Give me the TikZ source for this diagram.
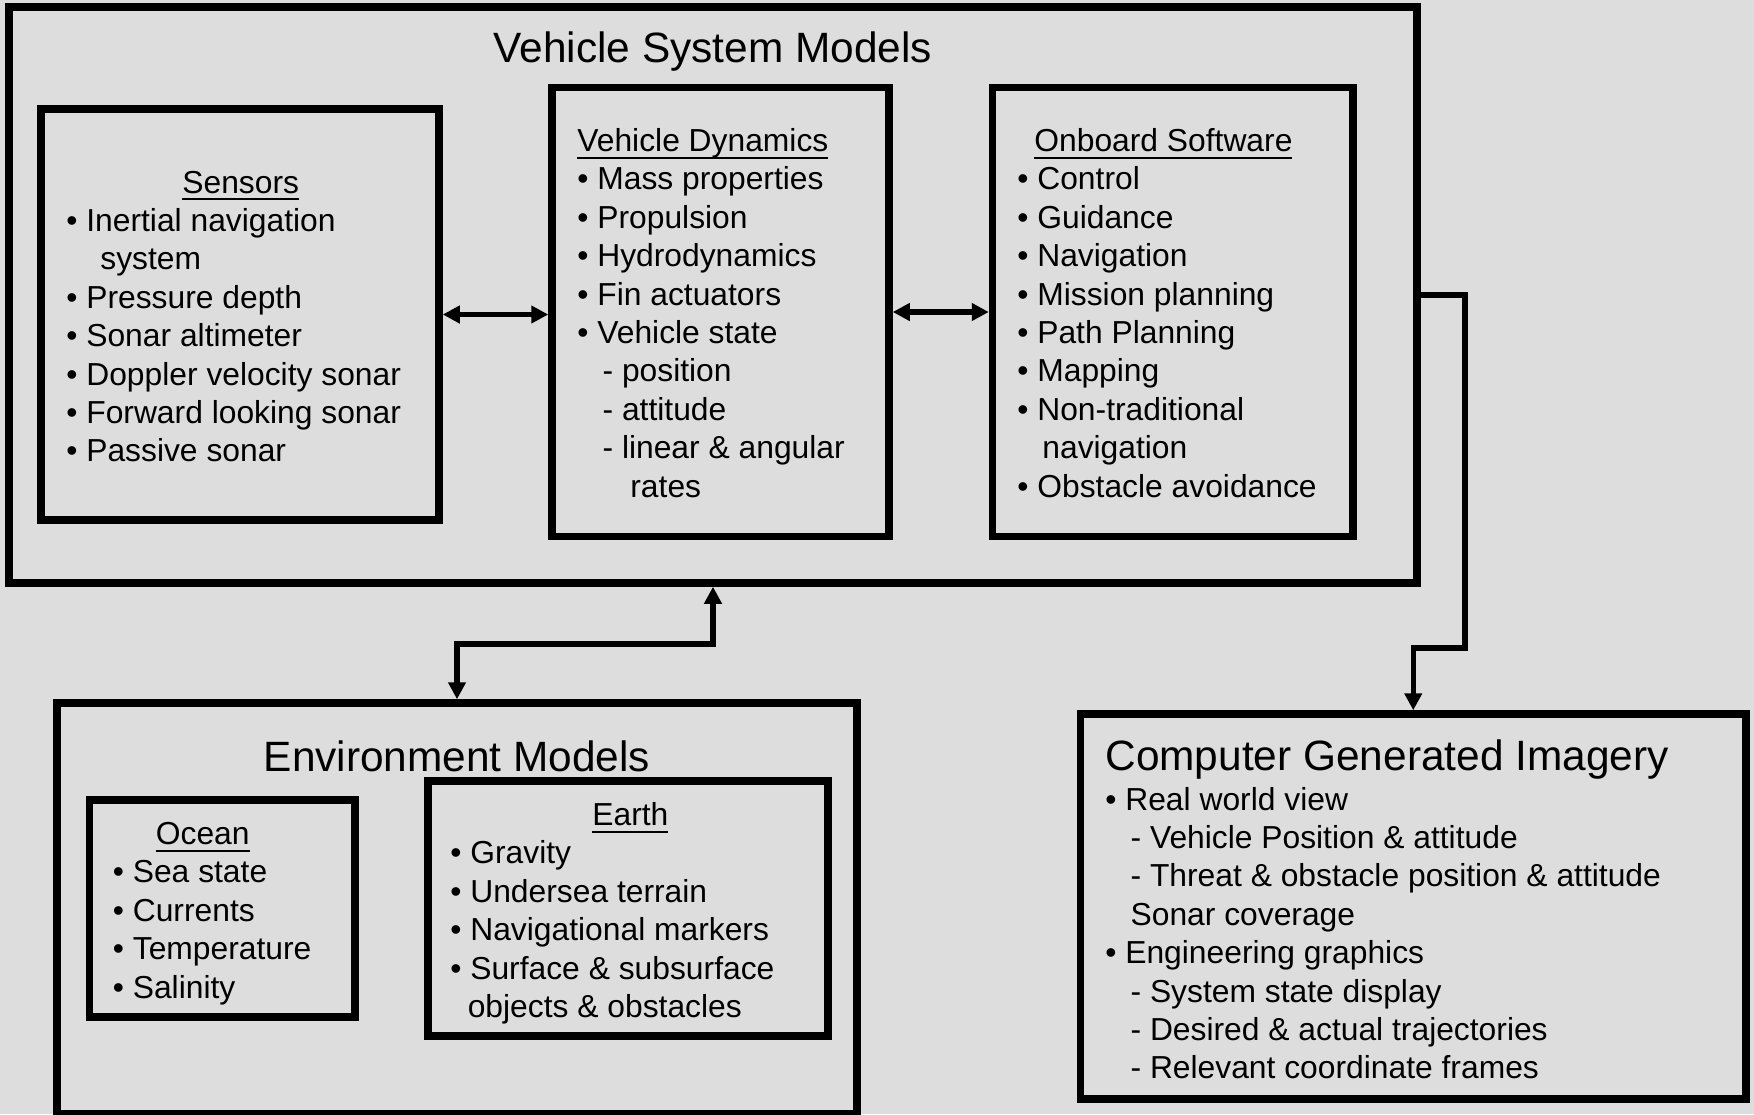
\documentclass[tikz,border=0pt]{standalone}
\usepackage{fontspec}
\setmainfont{Liberation Sans}
\usepackage{xcolor}
\usepackage{tikz}
\usetikzlibrary{arrows.meta}

\definecolor{panelgray}{RGB}{221,221,221}

% underlined box heading, rule drawn through the descenders
\newcommand{\hdr}[1]{\setbox0\hbox{#1}\rlap{\rule[-3.6pt]{\wd0}{1.1pt}}\box0}

\tikzset{
  model/.style={
    rectangle, draw=black, line width=3.75pt, inner sep=0pt
  },
  title/.style={
    font=\fontsize{21.2}{25}\selectfont, inner sep=0pt
  },
  items/.style={
    font=\fontsize{15.9}{19.2}\selectfont, inner sep=0pt, anchor=base west
  },
  headtip/.tip={Triangle[length=8.5pt,width=8.5pt]},
  link/.style={headtip-headtip, line width=2.75pt},
  feed/.style={-headtip, line width=2.75pt},
}

\begin{document}
\begin{tikzpicture}[x=0.5pt, y=-0.5pt]
    \fill[panelgray] (0,0) rectangle (1754,1114);
    \useasboundingbox (0,0) rectangle (1754,1114);

    % vehicle side
    \node[model, minimum width=704pt, minimum height=288pt] (vsm) at (713,295) {};
    \node[title, anchor=base] (vsmtitle) at (713,62.5) {Vehicle System Models};
    \node[model, minimum width=199pt, minimum height=205.5pt] (sensors) at (240,314.5) {};
    \node[model, minimum width=168.5pt, minimum height=224.5pt] (dynamics) at (720.5,312) {};
    \node[model, minimum width=180.25pt, minimum height=224.5pt] (software) at (1172.75,312) {};

    \node[items] (sensorlist) at (66,193) {\begin{tabular}[t]{@{}l@{}}
      \hspace*{58pt}\hdr{Sensors}\\
      • Inertial navigation\\
      \hspace*{17pt}system\\
      • Pressure depth\\
      • Sonar altimeter\\
      • Doppler velocity sonar\\
      • Forward looking sonar\\
      • Passive sonar
    \end{tabular}};
    \node[items] (dynamicslist) at (577,151.5) {\begin{tabular}[t]{@{}l@{}}
      \hdr{Vehicle Dynamics}\\
      • Mass properties\\
      • Propulsion\\
      • Hydrodynamics\\
      • Fin actuators\\
      • Vehicle state\\
      \hspace*{12.6pt}- position\\
      \hspace*{12.6pt}- attitude\\
      \hspace*{12.6pt}- linear \& angular\\
      \hspace*{26.5pt}rates
    \end{tabular}};
    \node[items] (softwarelist) at (1017,151.5) {\begin{tabular}[t]{@{}l@{}}
      \hspace*{8.5pt}\hdr{Onboard Software}\\
      • Control\\
      • Guidance\\
      • Navigation\\
      • Mission planning\\
      • Path Planning\\
      • Mapping\\
      • Non-traditional\\
      \hspace*{12.5pt}navigation\\
      • Obstacle avoidance
    \end{tabular}};

    % environment side
    \node[model, minimum width=400pt, minimum height=205.25pt] (env) at (457,908.25) {};
    \node[title, anchor=base] (envtitle) at (457,771.5) {Environment Models};
    \node[model, minimum width=132.75pt, minimum height=108.5pt] (ocean) at (222.25,908.5) {};
    \node[model, minimum width=200pt, minimum height=127.5pt] (earth) at (628,908.5) {};

    \node[items] (oceanlist) at (112.5,844.5) {\begin{tabular}[t]{@{}l@{}}
      \hspace*{21.5pt}\hdr{Ocean}\\
      • Sea state\\
      • Currents\\
      • Temperature\\
      • Salinity
    \end{tabular}};
    \node[items] (earthlist) at (450,825.5) {\begin{tabular}[t]{@{}l@{}}
      \hspace*{71pt}\hdr{Earth}\\
      • Gravity\\
      • Undersea terrain\\
      • Navigational markers\\
      • Surface \& subsurface\\
      \hspace*{8.7pt}objects \& obstacles
    \end{tabular}};

    % imagery
    \node[model, minimum width=332.75pt, minimum height=192.5pt] (cgi) at (1413.25,906.5) {};
    \node[title, anchor=base west] (cgititle) at (1105,770.5) {Computer Generated Imagery};
    \node[items] (cgilist) at (1105,810) {\begin{tabular}[t]{@{}l@{}}
      • Real world view\\
      \hspace*{12.6pt}- Vehicle Position \& attitude\\
      \hspace*{12.6pt}- Threat \& obstacle position \& attitude\\
      \hspace*{12.6pt}Sonar coverage\\
      • Engineering graphics\\
      \hspace*{12.6pt}- System state display\\
      \hspace*{12.6pt}- Desired \& actual trajectories\\
      \hspace*{12.6pt}- Relevant coordinate frames
    \end{tabular}};

    \coordinate (envjog) at (457,644);
    \coordinate (cgijog) at (1465,648);

    \draw[link] (sensors.east) -- (sensors.east -| dynamics.west);
    \draw[link] (dynamics.east) -- (software.west);
    \draw[link] (vsm.south) -- (vsm.south |- envjog) -| (env.north);
    \draw[feed] (vsm.east) -| (cgijog) -| (cgi.north);
  \end{tikzpicture}
\end{document}
